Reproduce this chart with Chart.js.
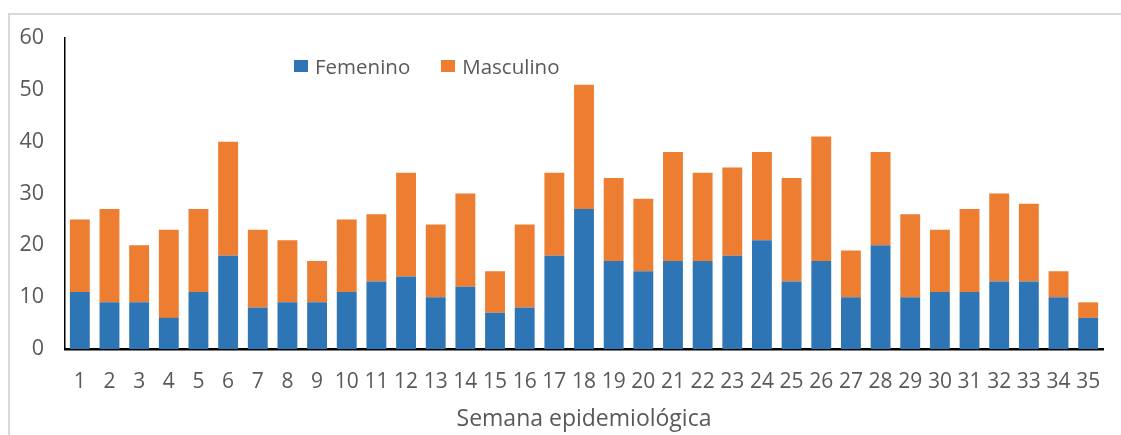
<!DOCTYPE html>
<html>
<head>
<meta charset="utf-8">
<script src="https://cdn.jsdelivr.net/npm/chart.js@4"></script>
<style>
  html, body { margin: 0; padding: 0; background: #fff; }
  body { width: 1121px; height: 435px; position: relative; overflow: hidden; font-family: "Open Sans", sans-serif; }
  #frame { position: absolute; left: 8px; top: 13px; width: 1130px; height: 440px; border: 2px solid #d9d9d9; box-sizing: border-box; }
  #wrap { position: absolute; left: 0; top: 0; width: 1121px; height: 435px; }
  #legend { position: absolute; left: 294px; top: 52px; display: flex; align-items: center; font-size: 20.5px; color: #595959; }
  #legend .item { display: flex; align-items: center; margin-right: 31px; }
  #legend .box { width: 14px; height: 12px; margin-right: 7px; }
</style>
</head>
<body>
<div id="frame"></div>
<div id="wrap"><canvas id="chart" width="1121" height="435"></canvas></div>
<div id="legend"></div>
<script>
const semanas = ['1','2','3','4','5','6','7','8','9','10','11','12','13','14','15','16','17','18','19','20',
                 '21','22','23','24','25','26','27','28','29','30','31','32','33','34','35']
const femenino = [11, 9, 9, 6, 11, 18, 8, 9, 9, 11, 13, 14, 10, 12, 7, 8, 18, 27, 17, 15,
                  17, 17, 18, 21, 13, 17, 10, 20, 10, 11, 11, 13, 13, 10, 6]
const masculino = [14, 18, 11, 17, 16, 22, 15, 12, 8, 14, 13, 20, 14, 18, 8, 16, 16, 24, 16, 14,
                   21, 17, 17, 17, 20, 24, 9, 18, 16, 12, 16, 17, 15, 5, 3]

const textColor = '#595959'

const chartConfig = {
    type: 'bar',
    data: {
        labels: semanas,
        datasets: [
            { label: 'Femenino', data: femenino, backgroundColor: '#2E75B6', borderWidth: 0 },
            { label: 'Masculino', data: masculino, backgroundColor: '#ED7D31', borderWidth: 0 }
        ]
    },
    options: {
        responsive: false,
        animation: false,
        datasets: { bar: { barPercentage: 0.67, categoryPercentage: 1 } },
        layout: { padding: { top: 38, right: 18, left: 0, bottom: 0 } },
        plugins: { legend: { display: false }, tooltip: { enabled: false } },
        scales: {
            x: {
                stacked: true,
                grid: { display: false },
                border: { display: true, color: '#000', width: 2.5 },
                ticks: { color: textColor, font: { family: 'Open Sans', size: 21 }, padding: 12, maxRotation: 0, autoSkip: false },
                title: { display: true, text: 'Semana epidemiológica', color: textColor,
                         font: { family: 'Open Sans', size: 23 }, padding: { top: 0, bottom: 2 } },
                afterFit: scale => { scale.height = 86 }
            },
            y: {
                stacked: true,
                min: 0,
                max: 60,
                grid: { display: false },
                border: { display: true, color: '#000', width: 1.5 },
                ticks: { stepSize: 10, color: textColor, font: { family: 'Open Sans', size: 21.5 }, padding: 13 },
                afterFit: scale => { scale.width = 65 }
            }
        }
    }
}

window.onload = () => {
    const chart = new Chart(document.getElementById('chart'), chartConfig)

    const legend = document.getElementById('legend')
    chart.data.datasets.forEach((ds) => {
        const html = `<div class="item"><span class="box" style="background:${ds.backgroundColor}"></span><span>${ds.label}</span></div>`
        legend.insertAdjacentHTML('beforeend', html)
    })
}
</script>
</body>
</html>
